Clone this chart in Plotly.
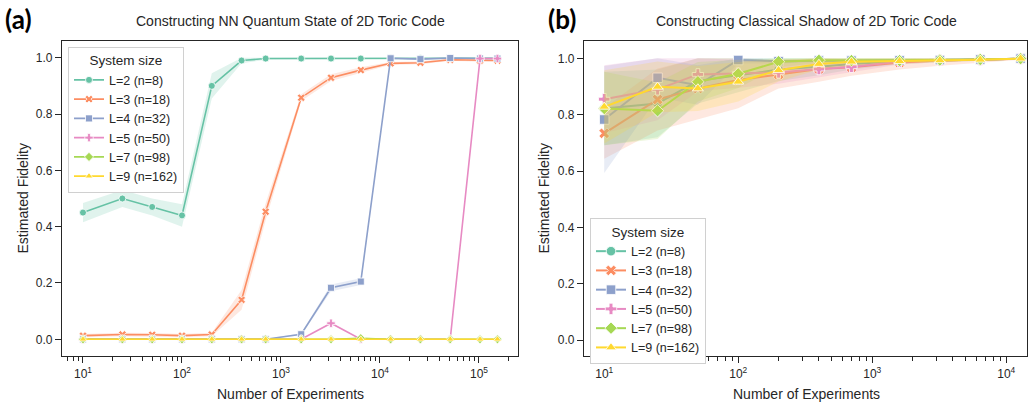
import plotly.graph_objects as go

W, H = 1029, 408

labels = ["L=2 (n=8)", "L=3 (n=18)", "L=4 (n=32)", "L=5 (n=50)", "L=7 (n=98)", "L=9 (n=162)"]

# ---- Panel (a): NN quantum state ----
x_nn = [10, 25, 50, 100, 200, 400, 700, 1600, 3200, 6400, 12800, 25600, 51200, 102400, 153600]
nn_L2 = [0.45, 0.50, 0.47, 0.44, 0.90, 0.99, 0.997, 0.997, 0.997, 0.997, 0.998, 0.998, 0.998, 0.998, 0.998]
nn_L3 = [0.013, 0.017, 0.016, 0.013, 0.017, 0.14, 0.453, 0.858, 0.929, 0.956, 0.980, 0.982, 0.993, 0.990, 0.990]
nn_L4 = [0.0, 0.0, 0.0, 0.0, 0.0, 0.0, 0.0, 0.018, 0.183, 0.205, 0.998, 0.995, 0.999, 0.997, 0.997]
nn_L5 = [0.0, 0.0, 0.0, 0.0, 0.0, 0.0, 0.0, 0.0, 0.057, 0.0, 0.0, 0.0, 0.0, 0.997, 0.997]
nn_L7 = [0.0, 0.0, 0.0, 0.0, 0.0, 0.0, 0.0, 0.0, 0.0, 0.004, 0.0, 0.0, 0.0, 0.0, 0.0]
nn_L9 = [0.0, 0.0, 0.0, 0.0, 0.0, 0.0, 0.0, 0.0, 0.0, 0.0, 0.0, 0.0, 0.0, 0.0, 0.0]
nn_err_L2 = [0.034, 0.03, 0.03, 0.04, 0.045, 0.01, 0.004, 0.003, 0.003, 0.003, 0.002, 0.002, 0.002, 0.002, 0.002]
nn_err_L3 = [0.006, 0.006, 0.006, 0.006, 0.006, 0.035, 0.03, 0.012, 0.012, 0.01, 0.005, 0.005, 0.004, 0.004, 0.004]
nn_err_L4 = [0.0, 0.0, 0.0, 0.0, 0.0, 0.0, 0.0, 0.004, 0.012, 0.012, 0.002, 0.003, 0.002, 0.002, 0.002]
nn_err_L5 = [0.0, 0.0, 0.0, 0.0, 0.0, 0.0, 0.0, 0.0, 0.003, 0.0, 0.0, 0.0, 0.0, 0.002, 0.002]
nn_err_L7 = [0.002] * 15
nn_err_L9 = [0.002] * 15

# ---- Panel (b): classical shadow ----
x_cs = [10, 25, 50, 100, 200, 400, 700, 1600, 3200, 6400, 12800]
cs_L2 = [0.822, 0.840, 0.920, 0.940, 0.960, 0.970, 0.980, 0.990, 0.993, 0.995, 0.999]
cs_L3 = [0.734, 0.854, 0.893, 0.923, 0.943, 0.962, 0.968, 0.985, 0.992, 0.995, 0.999]
cs_L4 = [0.783, 0.931, 0.905, 0.994, 0.990, 0.992, 0.992, 0.993, 0.994, 0.996, 0.999]
cs_L5 = [0.855, 0.890, 0.943, 0.946, 0.950, 0.962, 0.970, 0.988, 0.993, 0.995, 0.999]
cs_L7 = [0.822, 0.814, 0.917, 0.945, 0.988, 0.993, 0.992, 0.992, 0.994, 0.996, 0.999]
cs_L9 = [0.828, 0.899, 0.893, 0.917, 0.958, 0.980, 0.988, 0.990, 0.993, 0.995, 0.999]
cs_err_L2 = [0.13, 0.12, 0.08, 0.06, 0.04, 0.03, 0.02, 0.01, 0.006, 0.004, 0.002]
cs_err_L3 = [0.09, 0.11, 0.11, 0.10, 0.05, 0.045, 0.03, 0.025, 0.018, 0.01, 0.004]
cs_err_L4 = [0.19, 0.07, 0.07, 0.012, 0.008, 0.005, 0.004, 0.003, 0.003, 0.002, 0.001]
cs_err_L5 = [0.12, 0.11, 0.06, 0.05, 0.04, 0.03, 0.02, 0.01, 0.006, 0.004, 0.002]
cs_err_L7 = [0.13, 0.10, 0.07, 0.05, 0.02, 0.01, 0.008, 0.006, 0.004, 0.003, 0.002]
cs_err_L9 = [0.13, 0.09, 0.08, 0.07, 0.04, 0.02, 0.015, 0.01, 0.006, 0.004, 0.002]

nn_series = [nn_L2, nn_L3, nn_L4, nn_L5, nn_L7, nn_L9]
nn_errs = [nn_err_L2, nn_err_L3, nn_err_L4, nn_err_L5, nn_err_L7, nn_err_L9]
cs_series = [cs_L2, cs_L3, cs_L4, cs_L5, cs_L7, cs_L9]
cs_errs = [cs_err_L2, cs_err_L3, cs_err_L4, cs_err_L5, cs_err_L7, cs_err_L9]

colors = ["#66c2a5", "#fc8d62", "#8da0cb", "#e78ac3", "#a6d854", "#ffd92f"]
symbols = ["circle", "x", "square", "cross", "diamond", "triangle-up"]


def rgba(hexc, a):
    h = hexc.lstrip("#")
    return "rgba(%d,%d,%d,%.2f)" % (int(h[0:2], 16), int(h[2:4], 16), int(h[4:6], 16), a)


fig = go.Figure()


def add_panel(xs, series, errs, xa, ya, legend, msize, lw):
    for i, (ys, es) in enumerate(zip(series, errs)):
        up = [min(y + e, 1.0) for y, e in zip(ys, es)]
        lo = [y - e for y, e in zip(ys, es)]
        fig.add_trace(go.Scatter(
            x=list(xs) + list(xs)[::-1], y=up + lo[::-1],
            fill="toself", fillcolor=rgba(colors[i], 0.2),
            line=dict(width=0), mode="lines", showlegend=False,
            hoverinfo="skip", xaxis=xa, yaxis=ya))
        fig.add_trace(go.Scatter(
            x=xs, y=ys, mode="lines+markers", name=labels[i],
            line=dict(color=colors[i], width=lw),
            marker=dict(symbol=symbols[i], size=msize, color=colors[i],
                        line=dict(color="white", width=0.8)),
            legend=legend, xaxis=xa, yaxis=ya))


add_panel(x_nn, nn_series, nn_errs, "x", "y", "legend", 7, 1.6)
add_panel(x_cs, cs_series, cs_errs, "x2", "y2", "legend2", 9.5, 2.0)

ink = "#262626"
font = "Arial, Liberation Sans, sans-serif"


def minor_vals(lo_exp, hi_exp):
    v = []
    for e in range(lo_exp, hi_exp + 1):
        for m in range(2, 10):
            v.append(m * 10 ** e)
    return v


common_x = dict(type="log", showgrid=False, zeroline=False, showline=True, mirror=True,
                linecolor=ink, linewidth=1.3, ticks="outside", ticklen=6, tickwidth=1,
                tickcolor=ink, tickfont=dict(size=12, color=ink, family=font),
                automargin=False)
common_y = dict(showgrid=False, zeroline=False, showline=True, mirror=True,
                linecolor=ink, linewidth=1.3, ticks="outside", ticklen=6, tickwidth=1,
                tickcolor=ink, tickfont=dict(size=12, color=ink, family=font),
                tickvals=[0, 0.2, 0.4, 0.6, 0.8, 1.0],
                ticktext=["0.0", "0.2", "0.4", "0.6", "0.8", "1.0"], automargin=False)

x1d = [62 / W, 518 / W]
x2d = [584 / W, 1027 / W]
yd = [1 - 356 / H, 1 - 40.7 / H]

fig.update_layout(
    width=W, height=H, margin=dict(l=0, r=0, t=0, b=0),
    paper_bgcolor="white", plot_bgcolor="white",
    font=dict(family=font, color=ink, size=12),
    xaxis=dict(common_x, domain=x1d, range=[0.788, 5.394], anchor="y",
               tickvals=[10, 100, 1e3, 1e4, 1e5],
               ticktext=["10<sup>1</sup>", "10<sup>2</sup>", "10<sup>3</sup>", "10<sup>4</sup>", "10<sup>5</sup>"],
               minor=dict(tickmode="array", tickvals=minor_vals(0, 5), ticks="outside",
                          ticklen=3.5, tickcolor=ink, tickwidth=1)),
    yaxis=dict(common_y, domain=yd, range=[-0.0593, 1.0604], anchor="x"),
    xaxis2=dict(common_x, domain=x2d, range=[0.849, 4.155], anchor="y2",
                tickvals=[10, 100, 1e3, 1e4],
                ticktext=["10<sup>1</sup>", "10<sup>2</sup>", "10<sup>3</sup>", "10<sup>4</sup>"],
                minor=dict(tickmode="array", tickvals=minor_vals(0, 4), ticks="outside",
                           ticklen=3.5, tickcolor=ink, tickwidth=1)),
    yaxis2=dict(common_y, domain=yd, range=[-0.0557, 1.0625], anchor="x2"),
    legend=dict(x=68 / W, y=1 - 46.7 / H, xanchor="left", yanchor="top",
                bgcolor="white", bordercolor="#d0d0d0", borderwidth=1,
                font=dict(size=12.5, color=ink, family=font),
                title=dict(text="System size", side="top center",
                           font=dict(size=13.5, color=ink, family=font)),
                tracegroupgap=0, itemwidth=30),
    legend2=dict(x=590 / W, y=1 - 218 / H, xanchor="left", yanchor="top",
                 bgcolor="white", bordercolor="#d0d0d0", borderwidth=1,
                 font=dict(size=12.5, color=ink, family=font),
                 title=dict(text="System size", side="top center",
                            font=dict(size=13.5, color=ink, family=font)),
                 tracegroupgap=0, itemwidth=30),
)

ann = []
ann.append(dict(text="<b>(a)</b>", x=3 / W, y=1 - 19 / H, xref="paper", yref="paper",
                xanchor="left", yanchor="middle", showarrow=False,
                font=dict(size=26, color="black", family="Lato, Open Sans, sans-serif")))
ann.append(dict(text="<b>(b)</b>", x=546 / W, y=1 - 19 / H, xref="paper", yref="paper",
                xanchor="left", yanchor="middle", showarrow=False,
                font=dict(size=26, color="black", family="Lato, Open Sans, sans-serif")))
ann.append(dict(text="Constructing NN Quantum State of 2D Toric Code", x=290 / W, y=1 - 21 / H,
                xref="paper", yref="paper", xanchor="center", yanchor="middle", showarrow=False,
                font=dict(size=14, color=ink, family=font)))
ann.append(dict(text="Constructing Classical Shadow of 2D Toric Code", x=806 / W, y=1 - 21 / H,
                xref="paper", yref="paper", xanchor="center", yanchor="middle", showarrow=False,
                font=dict(size=14, color=ink, family=font)))
for cx in (290, 806):
    ann.append(dict(text="Number of Experiments", x=cx / W, y=1 - 394 / H,
                    xref="paper", yref="paper", xanchor="center", yanchor="middle", showarrow=False,
                    font=dict(size=14, color=ink, family=font)))
for cx in (22, 543):
    ann.append(dict(text="Estimated Fidelity", x=cx / W, y=1 - 198.5 / H, textangle=-90,
                    xref="paper", yref="paper", xanchor="center", yanchor="middle", showarrow=False,
                    font=dict(size=14, color=ink, family=font)))
fig.update_layout(annotations=ann)

fig.write_html("out.html", config={"displayModeBar": False},
               post_script="document.body.style.margin='0';document.body.style.overflow='hidden';")
